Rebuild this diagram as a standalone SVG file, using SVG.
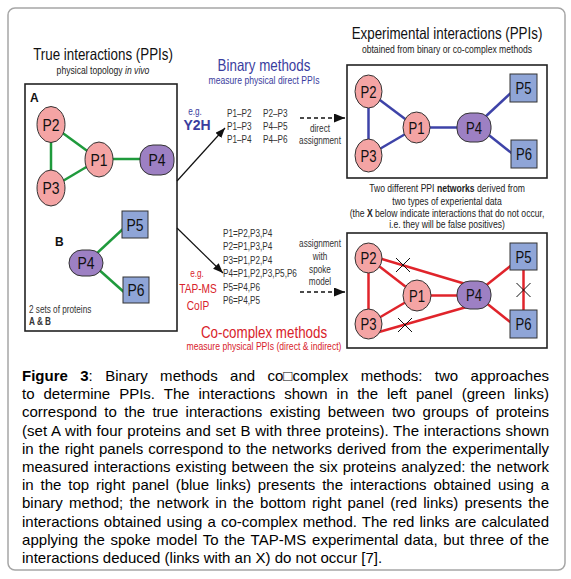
<svg xmlns="http://www.w3.org/2000/svg" width="571" height="579" viewBox="0 0 571 579">
<defs>
<marker id="ah" markerUnits="userSpaceOnUse" markerWidth="11" markerHeight="9" refX="10" refY="4" orient="auto"><path d="M0,0 L10,4 L0,8 z" fill="#111"/></marker>
<marker id="ahd" markerUnits="userSpaceOnUse" markerWidth="12" markerHeight="10" refX="11" refY="4.5" orient="auto"><path d="M0,0 L11,4.5 L0,9 z" fill="#111"/></marker>
<style>
text{font-family:"Liberation Sans",Arial,sans-serif;}
.frame{fill:#fff;stroke:#a6a6a6;stroke-width:1.5}
.box{fill:none;stroke:#222;stroke-width:1.6}
.pn{fill:#f4a4a4;stroke:#333;stroke-width:1}
.pu{fill:#9d80c3;stroke:#333;stroke-width:1}
.sq{fill:#8fa5d7;stroke:#333;stroke-width:1}
.g{stroke:#1f9a3c;stroke-width:2.5;fill:none}
.b{stroke:#3e43a8;stroke-width:2.5;fill:none}
.r{stroke:#e0242b;stroke-width:2.5;fill:none}
.x{stroke:#111;stroke-width:1;fill:none}
.ar{stroke:#111;stroke-width:1.2;fill:none}
.da{stroke:#111;stroke-width:1.5;stroke-dasharray:4,3;fill:none}
.lbl{font-size:16px;fill:#111;text-anchor:middle}
.lbll{font-size:17px;fill:#111;text-anchor:middle}
.ttl{font-size:16.3px;fill:#111;text-anchor:middle}
.sub{font-size:10.5px;fill:#222;text-anchor:middle}
.lst{font-size:10px;fill:#333}
.sm{font-size:10px;fill:#333;text-anchor:middle}
.blue{fill:#3a3d9e}
.red{fill:#d8222a}
.cap{font-size:15px;fill:#000}
</style>
</defs>

<rect class="frame" x="8" y="8" width="557" height="562" rx="7"/>

<!-- titles -->
<g id="titles">
<text class="ttl" transform="translate(103,60) scale(0.82,1)">True interactions (PPIs)</text>
<text class="sub" transform="translate(103,74) scale(0.82,1)">physical topology <tspan font-style="italic">in vivo</tspan></text>
<text class="ttl blue" transform="translate(264,71) scale(0.82,1)">Binary methods</text>
<text class="sub blue" transform="translate(264,84) scale(0.82,1)">measure physical direct PPIs</text>
<text class="ttl" transform="translate(447,39) scale(0.82,1)">Experimental interactions (PPIs)</text>
<text class="sub" transform="translate(447,53) scale(0.82,1)">obtained from binary or co-complex methods</text>
<text class="sub" transform="translate(447,192) scale(0.82,1)">Two different PPI <tspan font-weight="bold">networks</tspan> derived from</text>
<text class="sub" transform="translate(447,205) scale(0.82,1)">two types of experiental data</text>
<text class="sub" font-size="9" transform="translate(447,217) scale(0.82,1)">(the <tspan font-weight="bold">X</tspan> below indicate interactions that do not occur,</text>
<text class="sub" font-size="9" transform="translate(447,228) scale(0.82,1)">i.e. they will be false positives)</text>
<text class="ttl red" transform="translate(264,338) scale(0.82,1)">Co-complex methods</text>
<text class="sub red" font-size="11" transform="translate(264,350) scale(0.82,1)">measure physical PPIs (direct &amp; indirect)</text>
</g>

<!-- panels -->
<g id="panels">
<rect class="box" x="25" y="84" width="152" height="247" stroke-width="1.2"/>
<rect class="box" x="347" y="65" width="200" height="113"/>
<rect class="box" x="347" y="233" width="200" height="115"/>
<text x="30" y="102" font-size="12" font-weight="bold" fill="#111">A</text>
<text x="55" y="246" font-size="12" font-weight="bold" fill="#111">B</text>
<text class="lst" font-size="11.5" fill="#111" transform="translate(29,313) scale(0.82,1)">2 sets of proteins</text>
<text class="lst" font-size="11.5" font-weight="bold" fill="#111" transform="translate(29,325) scale(0.82,1)">A &amp; B</text>
</g>

<!-- method labels and lists -->
<g id="binary-list">
<text class="sm blue" transform="translate(195,115) scale(0.82,1)">e.g.</text>
<text x="197" y="130" font-size="14" font-weight="bold" fill="#3a3d9e" text-anchor="middle">Y2H</text>
<text class="lst" transform="translate(227,117) scale(0.82,1)">P1–P2</text>
<text class="lst" transform="translate(263,117) scale(0.82,1)">P2–P3</text>
<text class="lst" transform="translate(227,130) scale(0.82,1)">P1–P3</text>
<text class="lst" transform="translate(263,130) scale(0.82,1)">P4–P5</text>
<text class="lst" transform="translate(227,143) scale(0.82,1)">P1–P4</text>
<text class="lst" transform="translate(263,143) scale(0.82,1)">P4–P6</text>
<text class="sm" transform="translate(320,132) scale(0.82,1)">direct</text>
<text class="sm" transform="translate(320,144) scale(0.82,1)">assignment</text>
</g>
<g id="cocomplex-list">
<text class="sm red" transform="translate(197,277) scale(0.82,1)">e.g.</text>
<text class="red" font-size="13" text-anchor="middle" transform="translate(198,293) scale(0.78,1)">TAP-MS</text>
<text class="red" font-size="13" text-anchor="middle" transform="translate(198,310) scale(0.78,1)">CoIP</text>
<text class="lst" transform="translate(223,237) scale(0.82,1)">P1=P2,P3,P4</text>
<text class="lst" transform="translate(223,250) scale(0.82,1)">P2=P1,P3,P4</text>
<text class="lst" transform="translate(223,264) scale(0.82,1)">P3=P1,P2,P4</text>
<text class="lst" transform="translate(223,277) scale(0.82,1)">P4=P1,P2,P3,P5,P6</text>
<text class="lst" transform="translate(223,291) scale(0.82,1)">P5=P4,P6</text>
<text class="lst" transform="translate(223,304) scale(0.82,1)">P6=P4,P5</text>
<text class="sm" transform="translate(320,247) scale(0.82,1)">assignment</text>
<text class="sm" transform="translate(320,260) scale(0.82,1)">with</text>
<text class="sm" transform="translate(320,273) scale(0.82,1)">spoke</text>
<text class="sm" transform="translate(320,285) scale(0.82,1)">model</text>
</g>

<!-- connectors -->
<g id="connectors">
<line class="ar" x1="177" y1="181" x2="225" y2="128" marker-end="url(#ah)"/>
<line class="ar" x1="177" y1="228" x2="223" y2="273" marker-end="url(#ah)"/>
<line class="da" x1="300" y1="118" x2="345" y2="118" marker-end="url(#ahd)"/>
<line class="da" x1="300" y1="292" x2="345" y2="292" marker-end="url(#ahd)"/>
<!-- true (green) -->
<line class="g" x1="51" y1="124.5" x2="51" y2="188"/>
<line class="g" x1="51" y1="124.5" x2="99" y2="159.5"/>
<line class="g" x1="51" y1="188" x2="99" y2="159.5"/>
<line class="g" x1="99" y1="159" x2="157" y2="159"/>
<line class="g" x1="94" y1="256" x2="124" y2="228"/>
<line class="g" x1="97" y1="268" x2="125" y2="293"/>
<!-- binary (blue) -->
<line class="b" x1="368.5" y1="91.5" x2="368.5" y2="155.5"/>
<line class="b" x1="368.5" y1="91.5" x2="416.5" y2="127.5"/>
<line class="b" x1="368.5" y1="155.5" x2="416.5" y2="127.5"/>
<line class="b" x1="416.5" y1="127.5" x2="474" y2="127.5"/>
<line class="b" x1="484" y1="118" x2="513" y2="91"/>
<line class="b" x1="485" y1="132" x2="514" y2="155"/>
<!-- co-complex (red) -->
<line class="r" x1="368.5" y1="258" x2="368.5" y2="324"/>
<line class="r" x1="368.5" y1="258" x2="417" y2="295.5"/>
<line class="r" x1="368.5" y1="324" x2="417" y2="295.5"/>
<line class="r" x1="417" y1="295.5" x2="474" y2="295.5"/>
<line class="r" x1="368.5" y1="255" x2="474" y2="286.5"/>
<line class="r" x1="372" y1="334" x2="470" y2="306"/>
<line class="r" x1="484" y1="287" x2="513" y2="264"/>
<line class="r" x1="485" y1="302" x2="514" y2="325"/>
<line class="r" x1="523.5" y1="268" x2="523.5" y2="312"/>
<path class="x" d="M396,258 L410,272 M396,272 L410,258"/>
<path class="x" d="M398,318 L412,332 M398,332 L412,318"/>
<path class="x" d="M516.5,283 L530.5,297 M516.5,297 L530.5,283"/>
</g>

<!-- nodes: left panel set A -->
<g id="A-P2"><ellipse class="pn" cx="51" cy="124.5" rx="14" ry="18"/><text class="lbll" transform="translate(51,130.5) scale(0.82,1)">P2</text></g>
<g id="A-P3"><ellipse class="pn" cx="51" cy="188" rx="14" ry="18"/><text class="lbll" transform="translate(51,194) scale(0.82,1)">P3</text></g>
<g id="A-P1"><ellipse class="pn" cx="99" cy="159.5" rx="14" ry="17.5"/><text class="lbll" transform="translate(99,165.5) scale(0.82,1)">P1</text></g>
<g id="A-P4"><rect class="pu" x="140" y="145" width="34" height="30" rx="13"/><text class="lbll" transform="translate(157,166) scale(0.82,1)">P4</text></g>
<!-- set B -->
<g id="B-P4"><rect class="pu" x="69" y="250" width="34" height="26" rx="13"/><text class="lbll" transform="translate(86,269) scale(0.82,1)">P4</text></g>
<g id="B-P5"><rect class="sq" x="122" y="211" width="26" height="27"/><text class="lbll" transform="translate(135,230.5) scale(0.82,1)">P5</text></g>
<g id="B-P6"><rect class="sq" x="123" y="277" width="26" height="26"/><text class="lbll" transform="translate(136,296) scale(0.82,1)">P6</text></g>

<!-- top-right binary network -->
<g id="T-P2"><ellipse class="pn" cx="368.5" cy="91.5" rx="13.5" ry="16.5"/><text class="lbl" transform="translate(368.5,97.5) scale(0.82,1)">P2</text></g>
<g id="T-P3"><ellipse class="pn" cx="368.5" cy="155.5" rx="13.5" ry="16.5"/><text class="lbl" transform="translate(368.5,161.5) scale(0.82,1)">P3</text></g>
<g id="T-P1"><ellipse class="pn" cx="416.5" cy="127.5" rx="13.5" ry="15.5"/><text class="lbl" transform="translate(416.5,133.5) scale(0.82,1)">P1</text></g>
<g id="T-P4"><rect class="pu" x="457" y="113" width="34" height="29" rx="13"/><text class="lbl" transform="translate(474,133.5) scale(0.82,1)">P4</text></g>
<g id="T-P5"><rect class="sq" x="510" y="74" width="27" height="28"/><text class="lbl" transform="translate(523.5,94) scale(0.82,1)">P5</text></g>
<g id="T-P6"><rect class="sq" x="511" y="140" width="26" height="28"/><text class="lbl" transform="translate(524,160) scale(0.82,1)">P6</text></g>

<!-- bottom-right co-complex network -->
<g id="C-P2"><ellipse class="pn" cx="368.5" cy="258" rx="13.5" ry="15"/><text class="lbl" transform="translate(368.5,264) scale(0.82,1)">P2</text></g>
<g id="C-P3"><ellipse class="pn" cx="368.5" cy="324" rx="13.5" ry="15"/><text class="lbl" transform="translate(368.5,330) scale(0.82,1)">P3</text></g>
<g id="C-P1"><ellipse class="pn" cx="417" cy="295.5" rx="14" ry="15.5"/><text class="lbl" transform="translate(417,301.5) scale(0.82,1)">P1</text></g>
<g id="C-P4"><rect class="pu" x="457" y="281" width="34" height="28" rx="13"/><text class="lbl" transform="translate(474,301) scale(0.82,1)">P4</text></g>
<g id="C-P5"><rect class="sq" x="510" y="243" width="27" height="27"/><text class="lbl" transform="translate(523.5,262.5) scale(0.82,1)">P5</text></g>
<g id="C-P6"><rect class="sq" x="510" y="310" width="27" height="28"/><text class="lbl" transform="translate(523.5,330) scale(0.82,1)">P6</text></g>

<!-- caption -->
<g id="caption">
<text class="cap" x="22" y="381" word-spacing="8.2" textLength="527" lengthAdjust="spacing"><tspan font-weight="bold">Figure 3</tspan>: Binary methods and co□complex methods: two approaches</text>
<text class="cap" x="22" y="399.2" word-spacing="4.8" textLength="527" lengthAdjust="spacing">to determine PPIs. The interactions shown in the left panel (green links)</text>
<text class="cap" x="22" y="417.4" word-spacing="3.2" textLength="527" lengthAdjust="spacing">correspond to the true interactions existing between two groups of proteins</text>
<text class="cap" x="22" y="435.6" word-spacing="0.6" textLength="527" lengthAdjust="spacing">(set A with four proteins and set B with three proteins). The interactions shown</text>
<text class="cap" x="22" y="453.8" word-spacing="0.9" textLength="527" lengthAdjust="spacing">in the right panels correspond to the networks derived from the experimentally</text>
<text class="cap" x="22" y="472" word-spacing="0.9" textLength="527" lengthAdjust="spacing">measured interactions existing between the six proteins analyzed: the network</text>
<text class="cap" x="22" y="490.2" word-spacing="2.7" textLength="527" lengthAdjust="spacing">in the top right panel (blue links) presents the interactions obtained using a</text>
<text class="cap" x="22" y="508.4" word-spacing="2.0" textLength="527" lengthAdjust="spacing">binary method; the network in the bottom right panel (red links) presents the</text>
<text class="cap" x="22" y="526.6" word-spacing="0.9" textLength="527" lengthAdjust="spacing">interactions obtained using a co-complex method. The red links are calculated</text>
<text class="cap" x="22" y="544.8" word-spacing="1.4" textLength="527" lengthAdjust="spacing">applying the spoke model To the TAP-MS experimental data, but three of the</text>
<text class="cap" x="22" y="563">interactions deduced (links with an X) do not occur [7].</text>
</g>
</svg>
